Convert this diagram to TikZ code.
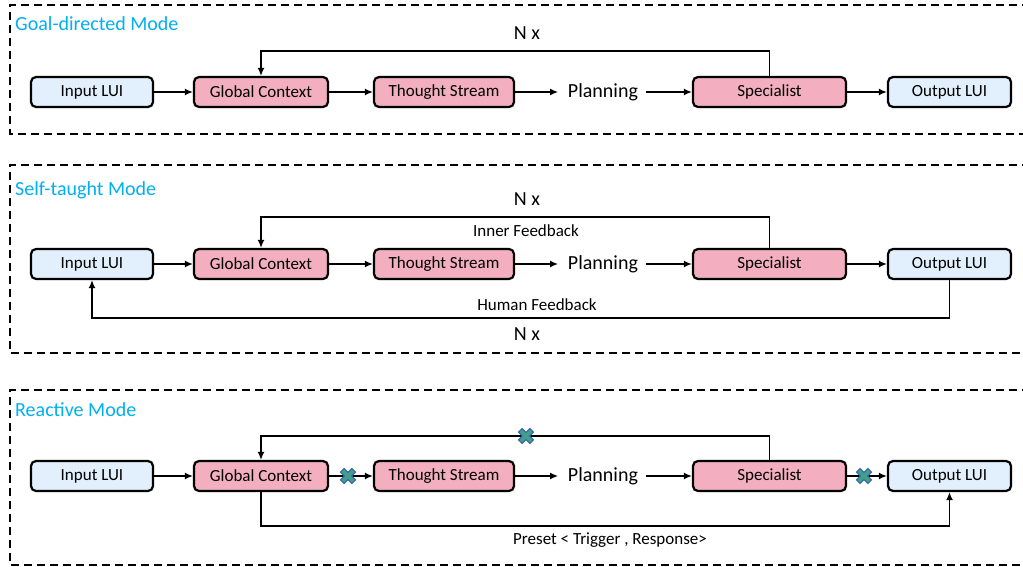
\documentclass[tikz,border=0pt]{standalone}
\usepackage{fontspec}
\setmainfont{Carlito}
\usetikzlibrary{arrows.meta}
\definecolor{luiblue}{RGB}{226,239,252}
\definecolor{modpink}{RGB}{243,175,191}
\definecolor{titlecyan}{RGB}{0,176,240}
\definecolor{xteal}{RGB}{64,160,140}
\definecolor{xblue}{RGB}{58,100,165}
\tikzset{
  box/.style={draw=black, line width=2.2pt, rounded corners=5pt, minimum height=30pt, inner sep=0pt, font=\fontsize{17}{19}\selectfont},
  lui/.style={box, fill=luiblue},
  mod/.style={box, fill=modpink},
  plan/.style={font=\fontsize{20}{22}\selectfont, inner sep=0pt},
  arr/.style={line width=1.5pt, -{Latex[length=8pt,width=7pt]}},
  panel/.style={dashed, line width=1.6pt, dash pattern=on 8pt off 5pt},
  ttl/.style={anchor=west, text=titlecyan, font=\fontsize{20}{22}\selectfont, inner sep=0pt},
  nx/.style={font=\fontsize{20}{22}\selectfont, inner sep=0pt},
  lbl/.style={font=\fontsize{17}{19}\selectfont, inner sep=0pt},
  xmark/.pic={
    \fill[draw=xblue, line width=1pt, fill=xteal, rotate=45]
      (-2.6,-8) -- (2.6,-8) -- (2.6,-2.6) -- (8,-2.6) -- (8,2.6) -- (2.6,2.6) -- (2.6,8)
      -- (-2.6,8) -- (-2.6,2.6) -- (-8,2.6) -- (-8,-2.6) -- (-2.6,-2.6) -- cycle;
  }
}
\begin{document}
\begin{tikzpicture}[x=1pt,y=-1pt]
\useasboundingbox[fill=white] (0,0) rectangle (1023,567);

% ---------- Panel 1 ----------
\draw[panel] (1030,5) -- (10,5) -- (10,134) -- (1030,134);
\node[ttl] (t1) at (15,24) {Goal-directed Mode};
\node[lui, minimum width=122pt] (in1) at (92,92) {Input LUI};
\node[mod, minimum width=134pt] (gc1) at (261,92) {Global Context};
\node[mod, minimum width=140pt] (ts1) at (444,92) {Thought Stream};
\node[plan] (pl1) at (603,92) {Planning};
\node[mod, minimum width=153pt] (sp1) at (769.5,92) {Specialist};
\node[lui, minimum width=123pt] (out1) at (949.5,92) {Output LUI};
\draw[arr] (in1) -- (gc1);
\draw[arr] (gc1) -- (ts1);
\draw[arr] (ts1.east) -- ++(43,0);
\draw[arr] ([xshift=-46pt]sp1.west) -- (sp1.west);
\draw[arr] (out1.west -| sp1.east) -- (out1.west);
\coordinate (f1) at (769,51);
\draw[arr] (sp1.north) |- (f1) -| (gc1.north);
\node[nx] (n1) at (527,33) {N x};

% ---------- Panel 2 ----------
\draw[panel] (1030,165) -- (10,165) -- (10,353) -- (1030,353);
\node[ttl] (t2) at (15,190) {Self-taught Mode};
\node[lui, minimum width=122pt] (in2) at (92,264) {Input LUI};
\node[mod, minimum width=134pt] (gc2) at (261,264) {Global Context};
\node[mod, minimum width=140pt] (ts2) at (444,264) {Thought Stream};
\node[plan] (pl2) at (603,264) {Planning};
\node[mod, minimum width=153pt] (sp2) at (769.5,264) {Specialist};
\node[lui, minimum width=123pt] (out2) at (949.5,264) {Output LUI};
\draw[arr] (in2) -- (gc2);
\draw[arr] (gc2) -- (ts2);
\draw[arr] (ts2.east) -- ++(43,0);
\draw[arr] ([xshift=-46pt]sp2.west) -- (sp2.west);
\draw[arr] (sp2) -- (out2);
\coordinate (f2) at (769,217);
\draw[arr] (sp2.north) |- (f2) -| (gc2.north);
\node[nx] (n2) at (527,199) {N x};
\node[lbl] (if2) at (526,231) {Inner Feedback};
\coordinate (h2) at (949,318);
\draw[arr] (out2.south) |- (h2) -| (in2.south);
\node[lbl] (hf2) at (537,305) {Human Feedback};
\node[nx] (n2b) at (527,334) {N x};

% ---------- Panel 3 ----------
\draw[panel] (1030,390) -- (10,390) -- (10,565) -- (1030,565);
\node[ttl] (t3) at (15,410) {Reactive Mode};
\node[lui, minimum width=122pt] (in3) at (92,476) {Input LUI};
\node[mod, minimum width=134pt] (gc3) at (261,476) {Global Context};
\node[mod, minimum width=140pt] (ts3) at (444,476) {Thought Stream};
\node[plan] (pl3) at (603,476) {Planning};
\node[mod, minimum width=153pt] (sp3) at (769.5,476) {Specialist};
\node[lui, minimum width=123pt] (out3) at (949.5,476) {Output LUI};
\draw[arr] (in3) -- (gc3);
\draw[arr] (gc3) -- (ts3);
\draw[arr] (ts3.east) -- ++(43,0);
\draw[arr] ([xshift=-46pt]sp3.west) -- (sp3.west);
\draw[arr] (sp3) -- (out3);
\coordinate (f3) at (769,436);
\draw[arr] (sp3.north) |- (f3) -| (gc3.north);
\coordinate (p3) at (261,526);
\draw[arr] (gc3.south) |- (p3) -| (out3.south);
\node[lbl] (pr3) at (610,540) {Preset < Trigger , Response>};
\pic at (526,436) {xmark};
\pic at (348,476) {xmark};
\pic at (864,476) {xmark};
\end{tikzpicture}
\end{document}
